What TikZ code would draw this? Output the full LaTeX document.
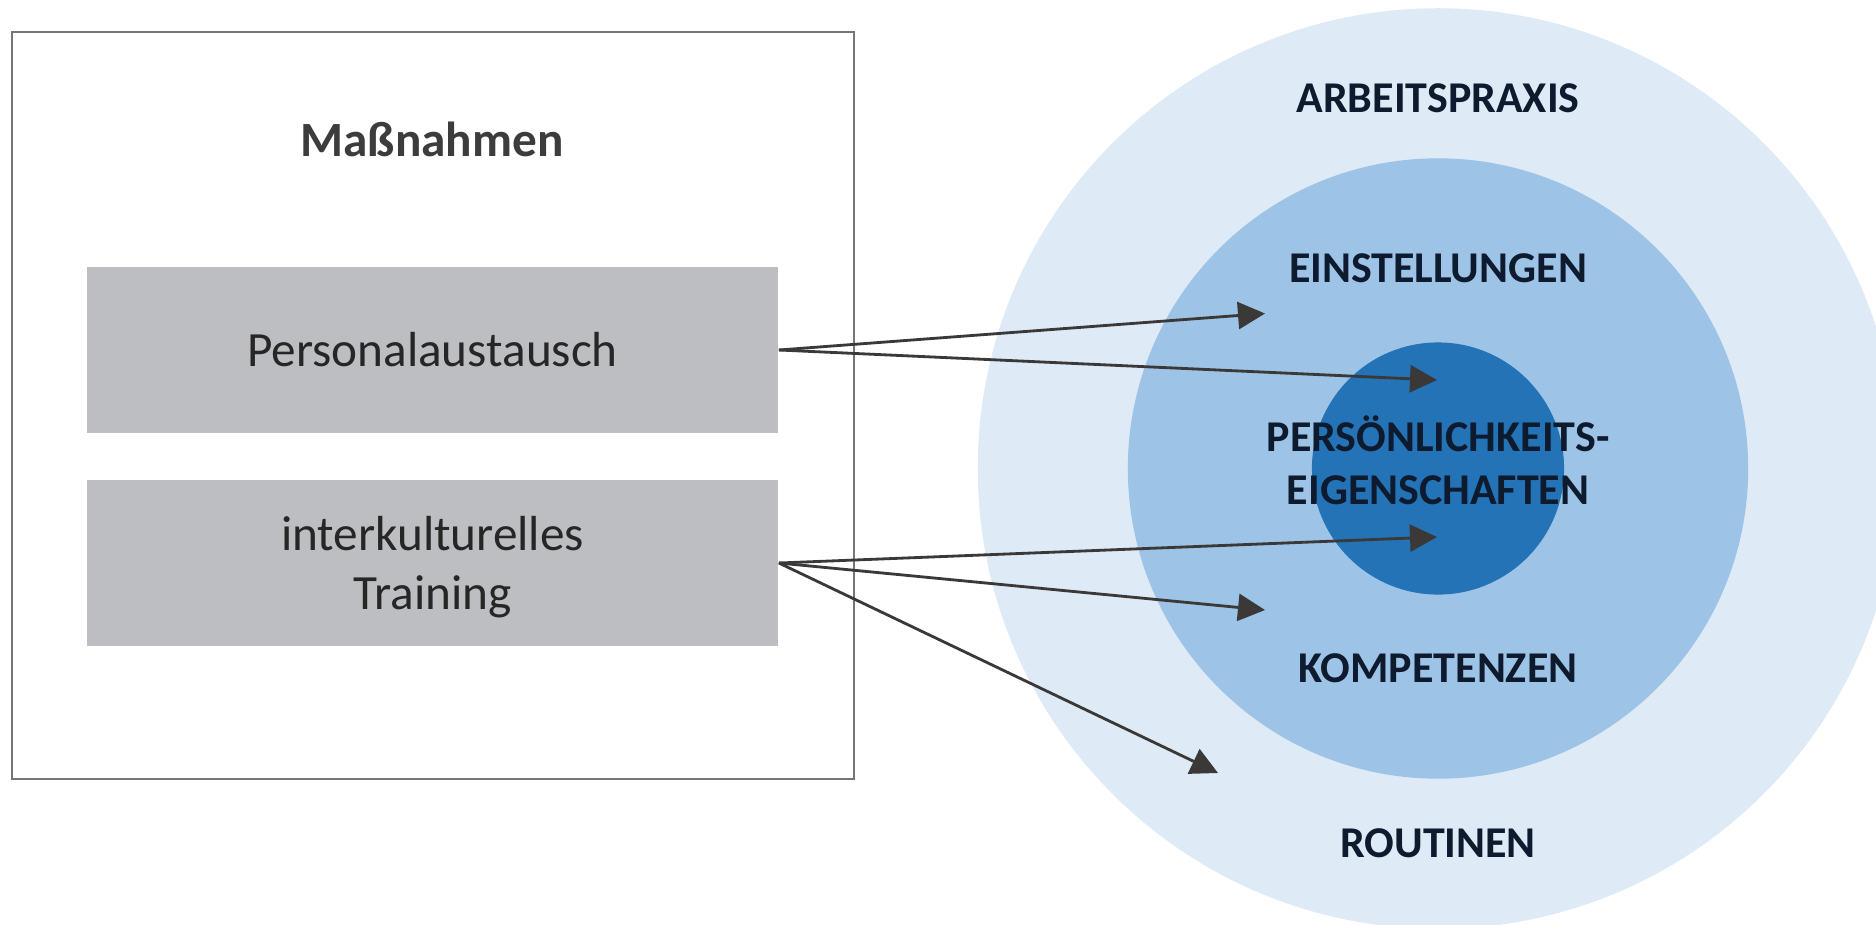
\documentclass[tikz,border=0pt]{standalone}
\usepackage{fontspec}
\setmainfont{Carlito}
\usepackage{tikz}
\usetikzlibrary{arrows.meta,shapes}
\definecolor{ringout}{RGB}{222,235,247}
\definecolor{ringmid}{RGB}{157,195,230}
\definecolor{ringin}{RGB}{35,115,182}
\definecolor{boxgray}{RGB}{189,190,193}
\definecolor{framegray}{RGB}{118,118,118}
\definecolor{arrowgray}{RGB}{59,56,56}
\definecolor{labelnavy}{RGB}{14,26,46}
\definecolor{textdark}{RGB}{38,38,38}
\tikzstyle{ring}=[circle,inner sep=0pt,draw=none]
\tikzstyle{measurebox}=[fill=boxgray,minimum width=6.91cm,minimum height=1.66cm,inner sep=0pt,text=textdark,font=\fontsize{14}{17}\selectfont,align=center]
\tikzstyle{ringlabel}=[anchor=base,text=labelnavy,font=\fontsize{12.5}{15}\selectfont\bfseries,align=center,inner sep=0pt]
\tikzstyle{edge}=[draw=arrowgray,line width=0.8pt,-{Triangle[length=2.7mm,width=2.7mm]}]

\begin{document}
\begin{tikzpicture}[x=0.01cm,y=-0.01cm]
      \useasboundingbox (0,0) rectangle (1876,924);
      \clip (0,0) rectangle (1876,924);
      \fill[white] (0,0) rectangle (1876,924);
      % left side
      \node[draw=framegray,line width=0.7pt,minimum width=8.42cm,minimum height=7.47cm,inner sep=0pt] (frame) at (433,405.5) {};
      \node[anchor=base,text=textdark!90!white,font=\fontsize{14}{17}\selectfont\bfseries,inner sep=0pt] (title) at (432,156) {Maßnahmen};
      \node[measurebox] (pers) at (432.5,350) {Personalaustausch};
      \node[measurebox,text depth=0pt] (train) at (432.5,563) {interkulturelles\\Training};
      % circles
      \node[ring,fill=ringout,minimum size=9.2cm] (praxis) at (1438,468.5) {};
      \node[ring,fill=ringmid,minimum size=6.2cm] (mid) at (1438,468.5) {};
      \node[ring,fill=ringin,minimum size=2.52cm] (core) at (1438,468.5) {};
      \node[ringlabel] (arb) at (1438,112) {ARBEITSPRAXIS};
      \node[ringlabel] (einst) at (1438,282) {EINSTELLUNGEN};
      \node[ringlabel] (eig) at (1438,504) {PERSÖNLICHKEITS-\\EIGENSCHAFTEN};
      \node[ringlabel] (komp) at (1438,682) {KOMPETENZEN};
      \node[ringlabel] (rout) at (1438,857.5) {ROUTINEN};
      % arrow targets
      \coordinate (t1) at (1265,313.5);
      \coordinate (t2) at (1437,380);
      \coordinate (t3) at (1437,537);
      \coordinate (t4) at (1265,610);
      \coordinate (t5) at (1218,773);
      \draw[edge] (pers.east) to (t1);
      \draw[edge] (pers.east) to (t2);
      \draw[edge] (train.east) to (t3);
      \draw[edge] (train.east) to (t4);
      \draw[edge] (train.east) to (t5);
\end{tikzpicture}
\end{document}
